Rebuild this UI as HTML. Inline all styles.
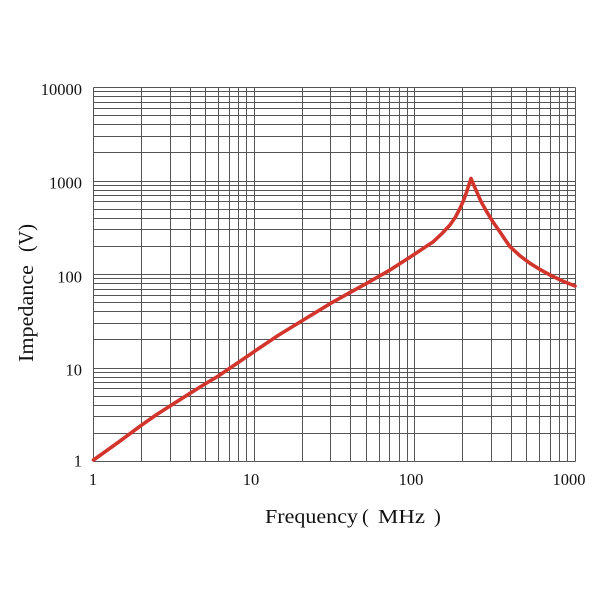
<!DOCTYPE html>
<html><head><meta charset="utf-8"><style>
html,body{margin:0;padding:0;background:#fff;}
svg{display:block;}
text{font-family:"Liberation Serif","Noto Serif CJK SC",serif;fill:#111;}
</style></head><body>
<svg width="600" height="600" viewBox="0 0 600 600" xmlns="http://www.w3.org/2000/svg">
<rect width="600" height="600" fill="#fff"/>
<g stroke="#555" stroke-width="1" shape-rendering="crispEdges" fill="none">
<!-- vertical grid -->
<path d="M93.5 87.5V461.5M141.5 87.5V461.5M170.5 87.5V461.5M190.5 87.5V461.5M205.5 87.5V461.5M218.5 87.5V461.5M229.5 87.5V461.5M238.5 87.5V461.5M246.5 87.5V461.5M254.5 87.5V461.5
M302.5 87.5V461.5M330.5 87.5V461.5M350.5 87.5V461.5M366.5 87.5V461.5M379.5 87.5V461.5M389.5 87.5V461.5M399.5 87.5V461.5M407.5 87.5V461.5M414.5 87.5V461.5
M462.5 87.5V461.5M491.5 87.5V461.5M511.5 87.5V461.5M526.5 87.5V461.5M539.5 87.5V461.5M550.5 87.5V461.5M559.5 87.5V461.5M567.5 87.5V461.5M575.5 87.5V461.5"/>
<!-- horizontal grid -->
<path d="M93.5 461.5H575.5M93.5 433.5H575.5M93.5 416.5H575.5M93.5 405.5H575.5M93.5 396.5H575.5M93.5 388.5H575.5M93.5 382.5H575.5M93.5 377.5H575.5M93.5 372.5H575.5
M93.5 368.5H575.5M93.5 339.5H575.5M93.5 323.5H575.5M93.5 311.5H575.5M93.5 302.5H575.5M93.5 295.5H575.5M93.5 289.5H575.5M93.5 283.5H575.5M93.5 278.5H575.5
M93.5 274.5H575.5M93.5 246.5H575.5M93.5 229.5H575.5M93.5 218.5H575.5M93.5 209.5H575.5M93.5 201.5H575.5M93.5 195.5H575.5M93.5 190.5H575.5M93.5 185.5H575.5
M93.5 181.5H575.5M93.5 152.5H575.5M93.5 136.5H575.5M93.5 124.5H575.5M93.5 115.5H575.5M93.5 108.5H575.5M93.5 102.5H575.5M93.5 96.5H575.5M93.5 91.5H575.5
M93.5 87.5H575.5"/>
</g>
<!-- curve -->
<polyline fill="none" stroke="#d2352c" stroke-width="3.6" stroke-linejoin="round" stroke-linecap="round"
points="93.5,460 118,442.5 141.7,425 156,415 170,406 190,393.3 205,384 218.3,376 236,364 254,351.7 278,335.5 303.3,320 330.7,303.3 350,292.5 366.7,283.3 390,270 413.3,255 423,248.5 433.3,241.7 442,233.5 450,225 455.5,217 460,208.3 463.5,200.5 466.7,191.7 469,184.5 471,178.5 473.5,184.5 476.7,191.7 481,201.5 486.7,211.7 493,222 500,232 505,239.5 510,246.7 520,255.8 530,263.3 540,269.5 550,275 562,280.8 575,286"/>
<!-- y tick labels -->
<g font-size="16.5" text-anchor="end">
<text x="82" y="95">10000</text>
<text x="82" y="188.5">1000</text>
<text x="82" y="282.5">100</text>
<text x="82" y="375.5">10</text>
<text x="82" y="466.5">1</text>
</g>
<!-- x tick labels -->
<g font-size="16.5" text-anchor="middle">
<text x="93" y="485">1</text>
<text x="251" y="485">10</text>
<text x="411" y="485">100</text>
<text x="569" y="485">1000</text>
</g>
<!-- x title -->
<g font-size="20.5">
<text x="265" y="523" textLength="93" lengthAdjust="spacingAndGlyphs">Frequency</text>
<text x="362" y="523">(</text>
<text x="378" y="523" textLength="47" lengthAdjust="spacingAndGlyphs">MHz</text>
<text x="434" y="523">)</text>
</g>
<!-- y title -->
<g transform="translate(33,362) rotate(-90)" font-size="21">
<text x="0" y="0" textLength="97" lengthAdjust="spacingAndGlyphs">Impedance</text>
<text x="110" y="0" textLength="28" lengthAdjust="spacingAndGlyphs">(V)</text>
</g>
</svg>
</body></html>
